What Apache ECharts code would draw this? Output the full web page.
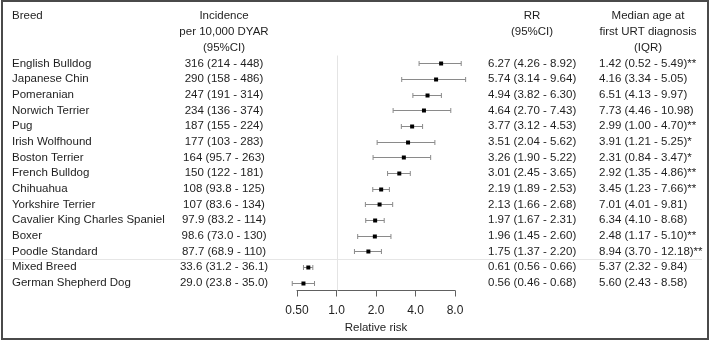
<!DOCTYPE html>
<html>
<head>
<meta charset="utf-8">
<script src="https://cdn.jsdelivr.net/npm/echarts@6/dist/echarts.min.js"></script>
<style>
  html, body { margin: 0; padding: 0; background: #fff; }
  #chart { width: 711px; height: 343px; }
</style>
</head>
<body>
<div id="chart"></div>
<script>
const breeds = [
  "English Bulldog", "Japanese Chin", "Pomeranian", "Norwich Terrier", "Pug",
  "Irish Wolfhound", "Boston Terrier", "French Bulldog", "Chihuahua",
  "Yorkshire Terrier", "Cavalier King Charles Spaniel", "Boxer",
  "Poodle Standard", "Mixed Breed", "German Shepherd Dog"
];
// incidence per 10,000 DYAR (95% CI)
const incidence = [316, 290, 247, 234, 187, 177, 164, 150, 108, 107, 97.9, 98.6, 87.7, 33.6, 29.0];
const incLow = [214, 158, 191, 136, 155, 103, 95.7, 122, 93.8, 83.6, 83.2, 73.0, 68.9, 31.2, 23.8];
const incHigh = [448, 486, 314, 374, 224, 283, 263, 181, 125, 134, 114, 130, 110, 36.1, 35.0];
// relative risk (95% CI)
const rr = [6.27, 5.74, 4.94, 4.64, 3.77, 3.51, 3.26, 3.01, 2.19, 2.13, 1.97, 1.96, 1.75, 0.61, 0.56];
const rrLow = [4.26, 3.14, 3.82, 2.70, 3.12, 2.04, 1.90, 2.45, 1.89, 1.66, 1.67, 1.45, 1.37, 0.56, 0.46];
const rrHigh = [8.92, 9.64, 6.30, 7.43, 4.53, 5.62, 5.22, 3.65, 2.53, 2.68, 2.31, 2.60, 2.20, 0.66, 0.68];
// median age at first URT diagnosis (IQR)
const ageMedian = [1.42, 4.16, 6.51, 7.73, 2.99, 3.91, 2.31, 2.92, 3.45, 7.01, 6.34, 2.48, 8.94, 5.37, 5.60];
const ageQ1 = [0.52, 3.34, 4.13, 4.46, 1.00, 1.21, 0.84, 1.35, 1.23, 4.01, 4.10, 1.17, 3.70, 2.32, 2.43];
const ageQ3 = [5.49, 5.05, 9.97, 10.98, 4.70, 5.25, 3.47, 4.86, 7.66, 9.81, 8.68, 5.10, 12.18, 9.84, 8.58];
const ageSig = ["**", "", "", "", "**", "*", "*", "**", "**", "", "", "**", "**", "", ""];
const rrTicks = [0.5, 1, 2, 4, 8];
const refRR = 1;

const FONT = "'Liberation Sans', Arial, sans-serif";
const TXT = "#1e1e1e";

const incLabels = incidence.map((v, i) =>
  v.toPrecision(3) + " (" + incLow[i].toPrecision(3) + " - " + incHigh[i].toPrecision(3) + ")");
const rrLabels = rr.map((v, i) =>
  v.toFixed(2) + " (" + rrLow[i].toFixed(2) + " - " + rrHigh[i].toFixed(2) + ")");
const ageLabels = ageMedian.map((v, i) =>
  v.toFixed(2) + " (" + ageQ1[i].toFixed(2) + " - " + ageQ3[i].toFixed(2) + ")" + ageSig[i]);

const chart = echarts.init(document.getElementById("chart"));

function labelAxis(data, position, align, margin) {
  return {
    type: "category",
    inverse: true,
    position: position,
    data: data,
    axisLine: { show: false },
    axisTick: { show: false },
    splitLine: { show: false },
    axisLabel: {
      interval: 0,
      align: align,
      margin: margin,
      color: TXT,
      fontFamily: FONT,
      fontSize: 11.5
    }
  };
}

// point estimate with whiskers; data item = [rr, rowIndex, low, high]
function renderItem(params, api) {
  const idx = api.value(1);
  const pt = api.coord([api.value(0), idx]);
  const lo = api.coord([api.value(2), idx]);
  const hi = api.coord([api.value(3), idx]);
  const whisker = { stroke: "#8a8a8a", lineWidth: 1 };
  const y = Math.round(pt[1]) + 0.5;
  return {
    type: "group",
    children: [
      { type: "line", shape: { x1: lo[0], y1: y, x2: hi[0], y2: y }, style: whisker },
      { type: "line", shape: { x1: lo[0], y1: y - 2.5, x2: lo[0], y2: y + 2.5 }, style: whisker },
      { type: "line", shape: { x1: hi[0], y1: y - 2.5, x2: hi[0], y2: y + 2.5 }, style: whisker },
      { type: "rect", shape: { x: pt[0] - 2, y: y - 2, width: 4, height: 4 }, style: { fill: "#000" } }
    ]
  };
}

// vertical reference line at RR = 1 across the plotting area
function renderRef(params, api) {
  const p = api.coord([api.value(0), 0]);
  const cs = params.coordSys;
  const x = Math.round(p[0]) + 0.5;
  return {
    type: "line",
    shape: { x1: x, y1: cs.y, x2: x, y2: cs.y + cs.height },
    style: { stroke: "#e4e4e4", lineWidth: 1 }
  };
}

const headerStyle = { fill: TXT, font: "11.5px " + FONT, lineHeight: 16, align: "center", verticalAlign: "top" };

const option = {
  animation: false,
  grid: { left: 297, right: 256, top: 55.5, bottom: 52.5 },
  xAxis: {
    type: "log",
    logBase: 2,
    min: rrTicks[0],
    max: rrTicks[rrTicks.length - 1],
    name: "Relative risk",
    nameLocation: "middle",
    nameGap: 28,
    nameTextStyle: { color: TXT, fontFamily: FONT, fontSize: 11.5 },
    axisLine: { show: true, lineStyle: { color: "#606060", width: 1 } },
    axisTick: { show: true, length: 6, lineStyle: { color: "#606060" } },
    splitLine: { show: false },
    axisLabel: {
      color: TXT,
      fontFamily: FONT,
      fontSize: 12,
      margin: 14,
      formatter: (v) => (v < 1 ? v.toFixed(2) : v.toFixed(1))
    }
  },
  yAxis: [
    labelAxis(breeds, "left", "left", 285),
    labelAxis(incLabels, "left", "center", 73),
    labelAxis(rrLabels, "right", "left", 33),
    labelAxis(ageLabels, "right", "left", 144)
  ],
  series: [
    {
      type: "custom",
      renderItem: renderRef,
      data: [[refRR, 0]],
      silent: true,
      z: 1
    },
    {
      type: "custom",
      clip: false,
      renderItem: renderItem,
      data: rr.map((v, i) => [v, i, rrLow[i], rrHigh[i]]),
      z: 3
    }
  ],
  graphic: [
    { type: "rect", shape: { x: 2, y: 1, width: 706, height: 338 },
      style: { fill: "none", stroke: "#4a4a4a", lineWidth: 2 }, z: 10 },
    { type: "text", x: 12, y: 8, style: Object.assign({}, headerStyle, { text: "Breed", align: "left" }) },
    { type: "text", x: 224, y: 8, style: Object.assign({}, headerStyle, { text: "Incidence\nper 10,000 DYAR\n(95%CI)" }) },
    { type: "text", x: 532, y: 8, style: Object.assign({}, headerStyle, { text: "RR\n(95%CI)" }) },
    { type: "text", x: 648, y: 8, style: Object.assign({}, headerStyle, { text: "Median age at\nfirst URT diagnosis\n(IQR)" }) }
  ]
};

chart.setOption(option);

// light separator between the breed rows and the reference groups
const yA = chart.convertToPixel({ yAxisIndex: 0 }, 12);
const yB = chart.convertToPixel({ yAxisIndex: 0 }, 13);
const sepY = Math.round((yA + yB) / 2) + 0.5;
chart.setOption({
  graphic: option.graphic.concat([{
    type: "line",
    shape: { x1: 4, y1: sepY, x2: 702, y2: sepY },
    style: { stroke: "#e6e6e6", lineWidth: 1 },
    z: -1
  }])
});
</script>
</body>
</html>
